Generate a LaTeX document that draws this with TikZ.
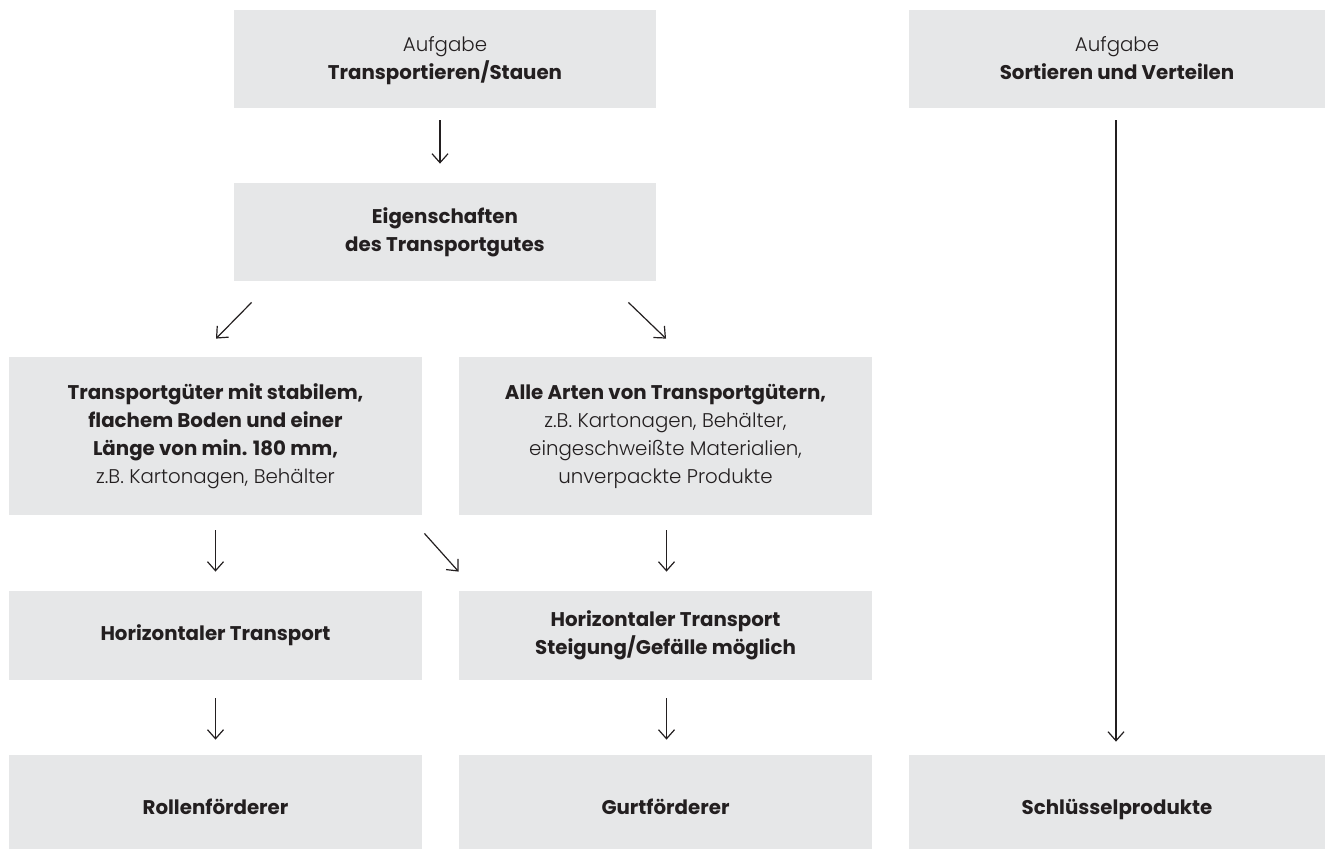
\documentclass[tikz,border=0pt]{standalone}
\usepackage{fontspec}
\setmainfont{Poppins}
\newfontfamily\lightfont{Poppins Light}
\usetikzlibrary{arrows.meta,calc}
\definecolor{boxgray}{HTML}{E6E7E8}
\definecolor{ink}{HTML}{231F20}
\tikzset{
  box/.style={fill=boxgray, draw=none, align=center, text=ink, inner sep=0pt, font=\fontsize{9.9}{14}\selectfont},
  oneline/.style={text height=7.5pt, text depth=2.5pt},
  arr/.style={draw=ink, line width=0.6pt, -{Straight Barb[length=4.5pt,width=8pt,line width=0.6pt]}},
}
\newcommand{\lt}[1]{{\lightfont #1}}
\newcommand{\toprule}{\rule{0pt}{10.5pt}}
\begin{document}
\begin{tikzpicture}[x=0.5pt,y=-0.5pt]
\useasboundingbox (0,0) rectangle (1325,848);
\node[box, minimum width=211pt, minimum height=49pt] (A) at (445,59) {\toprule\lt{Aufgabe}\\\textbf{Transportieren/Stauen}\strut};
\node[box, minimum width=208pt, minimum height=49pt] (B) at (1117,59) {\toprule\lt{Aufgabe}\\\textbf{Sortieren und Verteilen}\strut};
\node[box, minimum width=211pt, minimum height=49pt] (C) at (445,232) {\textbf{Eigenschaften}\\\textbf{des Transportgutes}};
\node[box, minimum width=206.5pt, minimum height=79pt] (D) at (215.5,436) {\textbf{Transportgüter mit stabilem,}\\\textbf{flachem Boden und einer}\\\textbf{Länge von min. 180 mm,}\\\lt{z.B. Kartonagen, Behälter}};
\node[box, minimum width=206.5pt, minimum height=79pt] (E) at (665.5,436) {\textbf{Alle Arten von Transportgütern,}\\\lt{z.B. Kartonagen, Behälter,}\\\lt{eingeschweißte Materialien,}\\\lt{unverpackte Produkte}};
\node[box, oneline, minimum width=206.5pt, minimum height=44.5pt] (F) at (215.5,635.5) {\textbf{Horizontaler Transport}};
\node[box, minimum width=206.5pt, minimum height=44.5pt] (G) at (665.5,635.5) {\textbf{Horizontaler Transport}\\\textbf{Steigung/Gefälle möglich}};
\node[box, oneline, minimum width=206.5pt, minimum height=54pt] (H) at (215.5,809) {\textbf{Rollenförderer}};
\node[box, oneline, minimum width=206.5pt, minimum height=54pt] (I) at (665.5,809) {\textbf{Gurtförderer}};
\node[box, oneline, minimum width=208pt, minimum height=54pt] (J) at (1117,809) {\textbf{Schlüsselprodukte}};
\draw[arr] ($(A.south)+(-5,12)$) -- ($(C.north)+(-5,-19)$);
\draw[arr] ($(C.south west)+(18,21)$) -- ($(D.north)+(0.5,-18)$);
\draw[arr] ($(C.south east)+(-28,21)$) -- ($(E.north)+(0.5,-18)$);
\draw[arr] ($(D.south)+(0,15)$) -- ($(F.north)+(0,-19)$);
\draw[arr] ($(D.south east)+(2,18)$) -- ($(G.north west)+(0,-19)$);
\draw[arr] ($(E.south)+(1,15)$) -- ($(G.north)+(1,-19)$);
\draw[arr] ($(F.south)+(0,18)$) -- ($(H.north)+(0,-15)$);
\draw[arr] ($(G.south)+(1,18)$) -- ($(I.north)+(1,-15)$);
\draw[arr] ($(B.south)+(-1,12)$) -- ($(J.north)+(-1,-13)$);
\end{tikzpicture}
\end{document}
